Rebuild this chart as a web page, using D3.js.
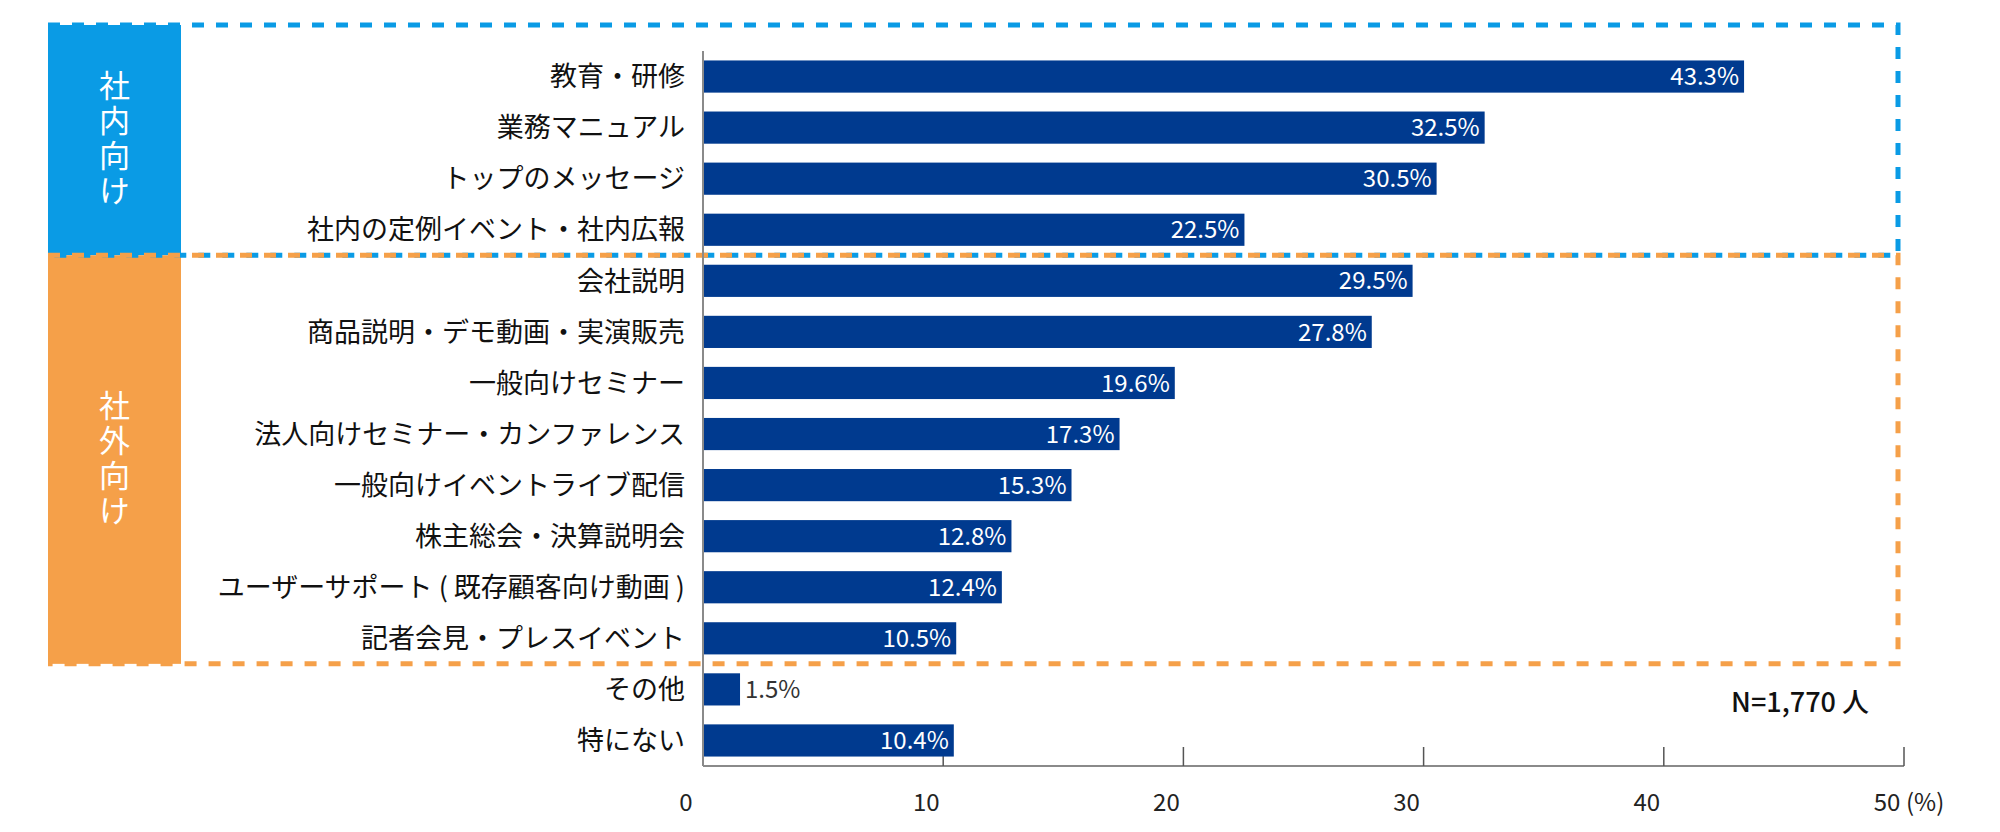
<!DOCTYPE html>
<html>
<head>
<meta charset="utf-8">
<script src="https://cdn.jsdelivr.net/npm/d3@7"></script>
<style>
  body { margin: 0; background: #fff; }
  svg text { font-family: "Noto Sans CJK JP", "Noto Sans", sans-serif; }
</style>
</head>
<body>
<div id="chart"></div>
<script>
// Survey: video usage by purpose (multiple answers)
const categories = [
    '教育・研修', '業務マニュアル', 'トップのメッセージ', '社内の定例イベント・社内広報',
    '会社説明', '商品説明・デモ動画・実演販売', '一般向けセミナー', '法人向けセミナー・カンファレンス',
    '一般向けイベントライブ配信', '株主総会・決算説明会', 'ユーザーサポート ( 既存顧客向け動画 )', '記者会見・プレスイベント',
    'その他', '特にない'
];
const values = [43.3, 32.5, 30.5, 22.5, 29.5, 27.8, 19.6, 17.3, 15.3, 12.8, 12.4, 10.5, 1.5, 10.4];
const xTicks = [0, 10, 20, 30, 40, 50];
// groups: name, first and last category index
const groupNames = ['社内向け', '社外向け'];
const groupFirst = [0, 4];
const groupLast = [3, 11];
const sampleNote = 'N=1,770 人';

const W = 2000, H = 832;
const BAR = '#003a8f';
const groupColors = ['#0a9be5', '#f5a049'];

const svg = d3.select('#chart').append('svg')
    .attr('width', W).attr('height', H);

const x = d3.scaleLinear().domain([0, 50]).range([703, 1904]);
const y = d3.scaleBand().domain(categories).range([51, 766])
    .paddingInner(0.37).paddingOuter(0.185);

const bandTop = i => y(categories[i]) - y.step() * y.paddingInner() / 2;
const bandBottom = i => bandTop(i) + y.step();

// Group boxes + dashed frames
const boxL = 48, boxR = 181, frameR = 1898, frameTop = 25;
groupNames.forEach((name, gi) => {
    const top = gi === 0 ? frameTop : bandTop(groupFirst[gi]);
    const bot = bandBottom(groupLast[gi]);
    svg.append('rect')
        .attr('x', boxL).attr('y', top).attr('width', boxR - boxL).attr('height', bot - top)
        .attr('fill', groupColors[gi]);
    // vertical label, one text element
    svg.append('text')
        .attr('x', (boxL + boxR) / 2)
        .attr('y', (top + bot) / 2)
        .attr('text-anchor', 'middle')
        .style('writing-mode', 'vertical-rl')
        .style('letter-spacing', '4px')
        .attr('fill', '#fff').attr('font-size', 31)
        .text(name);
});
groupNames.forEach((name, gi) => {
    const top = gi === 0 ? frameTop : bandTop(groupFirst[gi]);
    const bot = bandBottom(groupLast[gi]);
    svg.append('path')
        .attr('d', `M${boxL},${top}H${frameR}V${bot}H${boxL}`)
        .attr('fill', 'none')
        .attr('stroke', groupColors[gi]).attr('stroke-width', 5)
        .attr('stroke-dasharray', '12 12');
});

// Axes
const base = y.range()[1];
svg.append('line')
    .attr('x1', x(0)).attr('x2', x(0)).attr('y1', y.range()[0]).attr('y2', base)
    .attr('stroke', '#8a8a8a').attr('stroke-width', 2);
svg.append('line')
    .attr('x1', x(0)).attr('x2', x(50)).attr('y1', base).attr('y2', base)
    .attr('stroke', '#8a8a8a').attr('stroke-width', 2);
svg.append('g').selectAll('line').data(xTicks.slice(1)).enter().append('line')
    .attr('x1', d => x(d)).attr('x2', d => x(d))
    .attr('y1', base).attr('y2', base - 19)
    .attr('stroke', '#555').attr('stroke-width', 1.5);
svg.append('g').selectAll('text').data(xTicks).enter().append('text')
    .attr('x', d => x(d) - 17).attr('y', 803).attr('dy', '0.35em')
    .attr('text-anchor', 'middle').attr('font-size', 24).attr('fill', '#222')
    .text(d => d);
svg.append('text')
    .attr('x', x(50) + 2).attr('y', 803).attr('dy', '0.35em')
    .attr('font-size', 24).attr('fill', '#222').text('(%)');

// Bars
svg.append('g').selectAll('rect').data(values).enter().append('rect')
    .attr('x', x(0) + 1).attr('y', (d, i) => y(categories[i]))
    .attr('width', d => x(d) - x(0)).attr('height', y.bandwidth())
    .attr('fill', BAR);

// Category labels
svg.append('g').selectAll('text').data(categories).enter().append('text')
    .attr('x', x(0) - 18).attr('y', d => y(d) + y.bandwidth() / 2).attr('dy', '0.36em')
    .attr('text-anchor', 'end').attr('font-size', 27).attr('fill', '#111')
    .text(d => d);

// Value labels
svg.append('g').selectAll('text').data(values).enter().append('text')
    .attr('x', d => d < 5 ? x(d) + 6 : x(d) - 4)
    .attr('y', (d, i) => y(categories[i]) + y.bandwidth() / 2).attr('dy', '0.36em')
    .attr('text-anchor', d => d < 5 ? 'start' : 'end')
    .attr('font-size', 24).attr('fill', d => d < 5 ? '#333' : '#fff')
    .text(d => d.toFixed(1) + '%');

// Sample size note
svg.append('text')
    .attr('x', 1869).attr('y', 702).attr('dy', '0.36em')
    .attr('text-anchor', 'end').attr('font-size', 27).attr('fill', '#111')
    .attr('font-weight', 500)
    .text(sampleNote);
</script>
</body>
</html>
